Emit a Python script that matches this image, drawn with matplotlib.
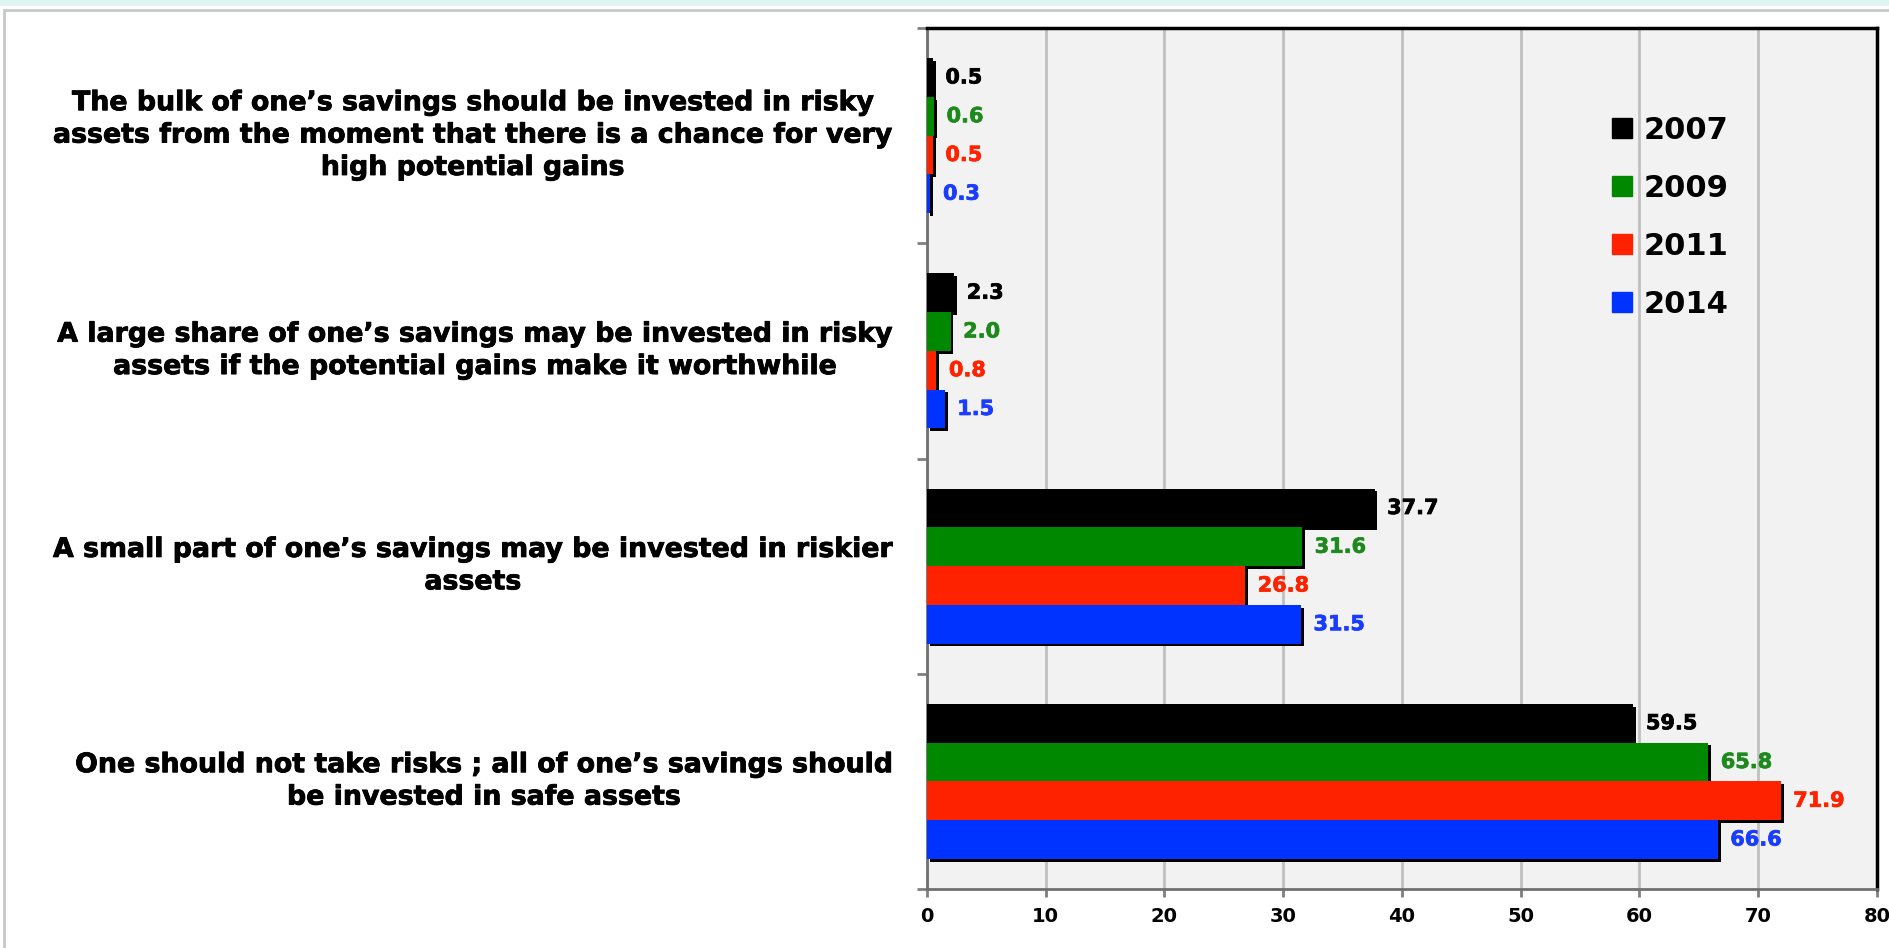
import numpy as np
import matplotlib
matplotlib.use("Agg")
import matplotlib.pyplot as plt
import matplotlib.patheffects as pe
from matplotlib.lines import Line2D
from matplotlib.patches import Rectangle

plt.rcParams['font.family'] = ['DejaVu Sans']
plt.rcParams['font.weight'] = 'bold'

categories = [
    "The bulk of one\u2019s savings should be invested in risky\nassets from the moment that there is a chance for very\nhigh potential gains",
    "A large share of one\u2019s savings may be invested in risky\nassets if the potential gains make it worthwhile",
    "A small part of one\u2019s savings may be invested in riskier\nassets",
    "One should not take risks ; all of one\u2019s savings should\nbe invested in safe assets",
]
years = ["2007", "2009", "2011", "2014"]
v2007 = [0.5, 2.3, 37.7, 59.5]
v2009 = [0.6, 2.0, 31.6, 65.8]
v2011 = [0.5, 0.8, 26.8, 71.9]
v2014 = [0.3, 1.5, 31.5, 66.6]
x_ticks = [0, 10, 20, 30, 40, 50, 60, 70, 80]

series = [v2007, v2009, v2011, v2014]
bar_colors = ["#000000", "#008800", "#ff2200", "#0033ff"]
text_colors = ["#000000", "#1e8a1e", "#ff2200", "#1a3cff"]

fig = plt.figure(figsize=(18.89, 9.48), dpi=100)
fig.patches.append(Rectangle((0, 0.994), 1, 0.006, transform=fig.transFigure,
                             facecolor="#dff5f0", edgecolor="none"))
fig.patches.append(Rectangle((0.002, -0.01), 1.0, 0.999, transform=fig.transFigure,
                             facecolor="none", edgecolor="#c8c8c8", linewidth=2))

ax = fig.add_axes([0.4907, 0.0622, 0.5029, 0.9083])
ax.set_facecolor("#f2f2f2")

ypos = np.arange(len(categories))[::-1]
h = 0.18
offs = [1.5 * h, 0.5 * h, -0.5 * h, -1.5 * h]
shadow = [pe.SimplePatchShadow(offset=(2, -2), shadow_rgbFace="black", alpha=1), pe.Normal()]
heavy = [pe.withStroke(linewidth=0.6, foreground="black")]

for vals, c, tc, off in zip(series, bar_colors, text_colors, offs):
    bars = ax.barh(ypos + off, vals, height=h, color=c, zorder=3)
    for b in bars:
        b.set_path_effects(shadow)
    for y, v in zip(ypos + off, vals):
        ax.annotate(f"{v:.1f}", (v, y), xytext=(9, 0), textcoords="offset points",
                    ha="left", va="center", color=tc, fontsize=15, fontweight="bold", zorder=4,
                    path_effects=[pe.withStroke(linewidth=0.5, foreground=tc)])

ax.set_xlim(0, 80)
ax.set_ylim(-0.5, 3.5)
ax.set_xticks(x_ticks)
ax.set_xticklabels([str(t) for t in x_ticks], fontsize=14, fontweight="bold")
ax.set_yticks([-0.5, 0.5, 1.5, 2.5, 3.5])
ax.set_yticklabels([])
ax.tick_params(axis="y", direction="out", length=7, width=2, color="#808080")
ax.tick_params(axis="x", direction="out", length=6, width=2, color="#808080", pad=7)
ax.grid(axis="x", color="#c0c0c0", linewidth=2, zorder=0)
ax.set_axisbelow(True)

for s in ["top", "right"]:
    ax.spines[s].set_color("black")
    ax.spines[s].set_linewidth(2.5)
for s in ["left", "bottom"]:
    ax.spines[s].set_color("#707070")
    ax.spines[s].set_linewidth(2)

for y, lab in zip(ypos, categories):
    ax.text(-2.9, y, lab, ha="right", va="center", multialignment="center",
            fontsize=19.3, fontweight="bold", linespacing=1.32, path_effects=heavy)

handles = [Line2D([], [], marker="s", linestyle="none", markersize=14, color=c) for c in bar_colors]
ax.legend(handles, years, loc="upper left", bbox_to_anchor=(0.69, 0.93), frameon=False,
          prop={"size": 22, "weight": "bold"}, handlelength=0.8, handletextpad=0.3,
          labelspacing=0.95)

fig.savefig("out.png", dpi=100)
